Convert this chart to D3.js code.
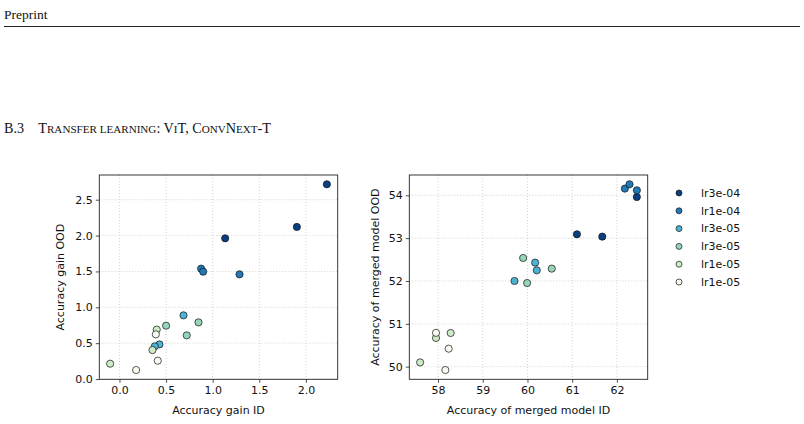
<!DOCTYPE html>
<html>
<head>
<meta charset="utf-8">
<script src="https://cdn.jsdelivr.net/npm/d3@7"></script>
<style>
  body { margin: 0; background: #fff; }
  svg { display: block; }
  .tick text { font-family: 'DejaVu Sans', sans-serif; font-size: 11px; fill: #111; }
</style>
</head>
<body>
<div id="chart"></div>
<script>
// Learning-rate groups (legend order)
const groups = ['lr3e-04', 'lr1e-04', 'lr3e-05', 'lr3e-05', 'lr1e-05', 'lr1e-05'];
const groupColors = ['#084081', '#1f7ab5', '#4eb3d3', '#97d5b8', '#cdebc6', '#f7fcf0'];

// Left plot: accuracy gain ID / OOD, three runs per group
const gainId = [
  [2.225, 1.903, 1.134],
  [0.876, 0.898, 1.288],
  [0.687, 0.429, 0.379],
  [0.500, 0.722, 0.848],
  [-0.100, 0.354, 0.400],
  [0.179, 0.411, 0.390]
];
const gainOod = [
  [2.715, 2.120, 1.962],
  [1.539, 1.497, 1.460],
  [0.888, 0.483, 0.456],
  [0.744, 0.609, 0.790],
  [0.214, 0.404, 0.690],
  [0.126, 0.256, 0.623]
];

// Right plot: accuracy of merged model ID / OOD
const mergedId = [
  [62.445, 61.106, 61.673],
  [62.178, 62.282, 62.446],
  [59.710, 60.171, 60.208],
  [59.903, 59.993, 60.543],
  [57.600, 58.283, 57.955],
  [57.955, 58.238, 58.164]
];
const mergedOod = [
  [53.960, 53.090, 53.035],
  [54.156, 54.257, 54.117],
  [52.000, 52.428, 52.249],
  [52.537, 51.953, 52.288],
  [50.100, 50.786, 50.670],
  [50.790, 50.420, 49.922]
];

const leftXTicks = [0.0, 0.5, 1.0, 1.5, 2.0];
const leftYTicks = [0.0, 0.5, 1.0, 1.5, 2.0, 2.5];
const rightXTicks = [58, 59, 60, 61, 62];
const rightYTicks = [50, 51, 52, 53, 54];

const W = 804, H = 424;
const svg = d3.select('#chart').append('svg')
  .attr('width', W)
  .attr('height', H);

// Page header
svg.append('text')
  .attr('x', 4).attr('y', 19)
  .style('font-family', "'Liberation Serif', 'Times New Roman', serif")
  .style('font-size', '13.5px')
  .style('fill', '#111')
  .text('Preprint');

svg.append('line')
  .attr('x1', 4).attr('x2', 800)
  .attr('y1', 26.5).attr('y2', 26.5)
  .attr('stroke', '#222')
  .attr('stroke-width', 1);

// Section heading in small caps
const heading = svg.append('text')
  .attr('x', 4).attr('y', 133)
  .style('font-family', "'Liberation Serif', 'Times New Roman', serif")
  .style('font-size', '14.2px')
  .style('fill', '#111');
const parts = [
  ['B.3', false], ['\u2003T', false], ['RANSFER LEARNING', true], [': V', false], ['I', true],
  ['T, C', false], ['ONV', true], ['N', false], ['EXT', true], ['-T', false]
];
parts.forEach(([t, small]) => {
  heading.append('tspan')
    .style('font-size', small ? '11.1px' : '14.2px')
    .attr('xml:space', 'preserve')
    .text(t);
});

function drawPlot(x0, xs, ys, xTicks, yTicks, fmt, xLabel, yLabel, yLabelX) {
  const box = { left: x0, top: 175, width: 238.4, height: 204.3 };

  const allX = xs.flat(), allY = ys.flat();
  const padX = (d3.max(allX) - d3.min(allX)) * 0.05;
  const padY = (d3.max(allY) - d3.min(allY)) * 0.05;

  const x = d3.scaleLinear()
    .domain([d3.min(allX) - padX, d3.max(allX) + padX])
    .range([0, box.width]);
  const y = d3.scaleLinear()
    .domain([d3.min(allY) - padY, d3.max(allY) + padY])
    .range([box.height, 0]);

  const g = svg.append('g')
    .attr('transform', `translate(${box.left},${box.top})`);

  // Dotted grid
  g.append('g').selectAll('line')
    .data(xTicks).enter().append('line')
    .attr('x1', d => x(d)).attr('x2', d => x(d))
    .attr('y1', 0).attr('y2', box.height)
    .attr('stroke', '#c8c8c8').attr('stroke-width', 0.8)
    .attr('stroke-dasharray', '1,2');
  g.append('g').selectAll('line')
    .data(yTicks).enter().append('line')
    .attr('x1', 0).attr('x2', box.width)
    .attr('y1', d => y(d)).attr('y2', d => y(d))
    .attr('stroke', '#c8c8c8').attr('stroke-width', 0.8)
    .attr('stroke-dasharray', '1,2');

  // Axes
  const xAxis = g.append('g')
    .attr('transform', `translate(0,${box.height})`)
    .call(d3.axisBottom(x).tickValues(xTicks).tickFormat(fmt).tickSize(3.5).tickPadding(3));
  const yAxis = g.append('g')
    .call(d3.axisLeft(y).tickValues(yTicks).tickFormat(fmt).tickSize(3.5).tickPadding(3));
  [xAxis, yAxis].forEach(a => {
    a.select('.domain').remove();
    a.selectAll('.tick line').attr('stroke', '#222').attr('stroke-width', 0.8);
  });

  // Points
  xs.forEach((row, gi) => {
    g.append('g').selectAll('circle')
      .data(row.map((v, i) => [v, ys[gi][i]]))
      .enter().append('circle')
      .attr('cx', d => x(d[0]))
      .attr('cy', d => y(d[1]))
      .attr('r', 3.6)
      .attr('fill', groupColors[gi])
      .attr('stroke', '#111')
      .attr('stroke-width', 0.7);
  });

  // Frame
  g.append('rect')
    .attr('width', box.width).attr('height', box.height)
    .attr('fill', 'none')
    .attr('stroke', '#222')
    .attr('stroke-width', 0.9);

  // Axis labels
  g.append('text')
    .attr('x', box.width / 2).attr('y', box.height + 35)
    .attr('text-anchor', 'middle')
    .style('font-family', "'DejaVu Sans', sans-serif")
    .style('font-size', '11px')
    .style('fill', '#111')
    .text(xLabel);
  g.append('text')
    .attr('transform', `translate(${yLabelX - box.left},${box.height / 2}) rotate(-90)`)
    .attr('text-anchor', 'middle')
    .style('font-family', "'DejaVu Sans', sans-serif")
    .style('font-size', '11px')
    .style('fill', '#111')
    .text(yLabel);

  return g;
}

drawPlot(99.3, gainId, gainOod, leftXTicks, leftYTicks, d3.format('.1f'),
  'Accuracy gain ID', 'Accuracy gain OOD', 64);
drawPlot(409.3, mergedId, mergedOod, rightXTicks, rightYTicks, d3.format('d'),
  'Accuracy of merged model ID', 'Accuracy of merged model OOD', 379);

// Legend
const legend = svg.append('g')
  .attr('transform', 'translate(679,193)');
groups.forEach((name, i) => {
  legend.append('circle')
    .attr('cx', 0).attr('cy', i * 17.8)
    .attr('r', 3)
    .attr('fill', groupColors[i])
    .attr('stroke', '#111')
    .attr('stroke-width', 0.7);
  legend.append('text')
    .attr('x', 22).attr('y', i * 17.8)
    .attr('dy', '0.35em')
    .style('font-family', "'DejaVu Sans', sans-serif")
    .style('font-size', '11px')
    .style('fill', '#111')
    .text(name);
});
</script>
</body>
</html>
